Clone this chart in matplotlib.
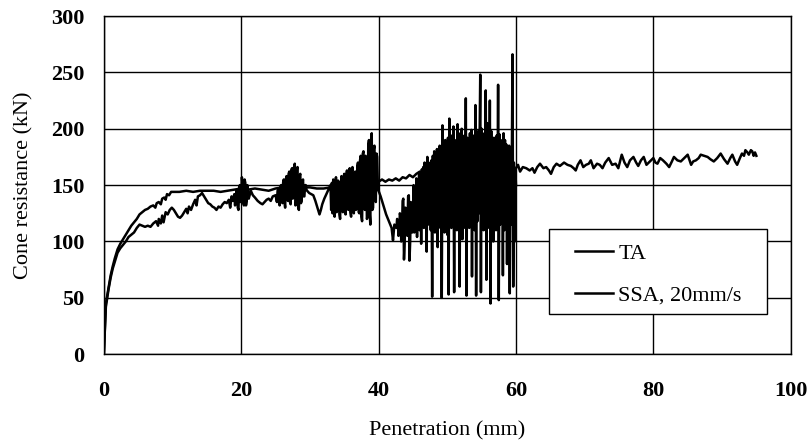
import matplotlib
matplotlib.use('Agg')
from matplotlib import pyplot as plt
from matplotlib.patches import Rectangle

plt.rcParams['font.family'] = ['Liberation Serif', 'DejaVu Serif']

# TA: (penetration mm, cone resistance kN)
ta_pts = [
    (0.0, 0), (0.1, 15), (0.2, 30), (0.3, 45), (0.5, 52), (0.8, 62), (1.0, 70), (1.3, 78),
    (1.6, 85), (2.0, 93), (2.4, 98), (2.8, 102), (3.2, 106), (3.6, 110), (4.0, 114),
    (4.4, 117), (4.8, 120), (5.2, 124), (5.6, 126), (6.0, 128), (6.4, 129), (6.8, 131),
    (7.2, 132), (7.5, 130), (7.7, 134), (8.0, 135), (8.3, 133), (8.5, 138), (8.8, 139),
    (9.0, 137), (9.2, 142), (9.5, 141), (9.8, 144),
    (10, 144), (11, 144), (12, 145), (13, 144), (14, 145), (15, 145), (16, 145), (17, 144),
    (18, 145), (19, 146), (20, 147), (21, 146), (22, 147), (23, 146), (24, 145), (25, 147),
    (26, 148), (27, 147), (28, 148), (29, 148), (30, 148), (31, 147), (32, 147), (33, 148),
    (34, 149), (35, 150), (36, 150), (37, 151), (38, 152), (39, 152), (40, 153),
    (40.5, 155), (41, 153), (41.5, 155), (42, 154), (42.5, 156), (43, 154), (43.5, 157),
    (44, 156), (44.5, 159), (45, 157), (45.5, 160), (46, 162), (46.5, 159), (47, 161),
    (48, 160), (49, 162), (50, 161), (51, 163), (52, 162), (53, 163), (54, 162), (55, 164),
    (56, 163), (57, 165), (58, 164), (59, 166),
    (60.0, 165), (60.3, 168), (60.6, 162), (61.0, 166), (61.5, 165), (62.0, 163),
    (62.4, 165), (62.7, 161), (63.1, 166), (63.5, 169), (64.0, 165), (64.4, 166),
    (64.8, 163), (65.1, 160), (65.5, 166), (65.9, 169), (66.4, 167), (67.0, 170),
    (67.5, 168), (68.0, 167), (68.4, 165), (68.7, 163), (69.0, 168), (69.4, 172),
    (69.8, 166), (70.2, 168), (70.6, 169), (70.9, 172), (71.3, 165), (71.8, 169),
    (72.2, 168), (72.6, 165), (73.0, 170), (73.5, 174), (74.0, 168), (74.5, 169),
    (74.9, 165), (75.4, 177), (75.8, 170), (76.2, 166), (76.6, 172), (77.1, 175),
    (77.5, 170), (77.8, 167), (78.2, 172), (78.6, 175), (79.0, 168), (79.5, 171),
    (80.0, 174), (80.3, 170), (80.6, 169), (81.0, 174), (81.4, 172), (81.9, 169),
    (82.3, 166), (82.7, 171), (83.0, 175), (83.5, 172), (84.0, 171), (84.5, 174),
    (85.0, 177), (85.5, 168), (85.8, 171), (86.2, 172), (86.6, 174), (86.9, 177),
    (87.4, 176), (87.9, 175), (88.3, 173), (88.8, 171), (89.3, 174), (89.8, 178),
    (90.3, 173), (90.8, 169), (91.2, 174), (91.5, 177), (91.9, 171), (92.2, 168),
    (92.6, 174), (92.9, 178), (93.2, 176), (93.4, 181), (93.7, 179), (93.9, 177),
    (94.2, 181), (94.4, 180), (94.6, 176), (94.8, 179), (95.0, 176),
]

# SSA, 20mm/s
ssa_pts = [
    (0.0, 0), (0.15, 20), (0.3, 42), (0.5, 50), (0.7, 58), (1.0, 68), (1.3, 76), (1.6, 82),
    (2.0, 90), (2.4, 94), (2.8, 97), (3.2, 100), (3.6, 104), (4.0, 106), (4.4, 108),
    (4.8, 112), (5.2, 115), (5.6, 114), (6.0, 113), (6.4, 114), (6.8, 113), (7.2, 116),
    (7.6, 118), (7.9, 114), (8.0, 120), (8.3, 116), (8.5, 123), (8.7, 117), (9.0, 126),
    (9.3, 124), (9.6, 128), (9.9, 130), (10.2, 128), (10.5, 125), (10.8, 122), (11.1, 121),
    (11.4, 123), (11.7, 126), (12.0, 129), (12.2, 125), (12.4, 131), (12.7, 128),
    (13.0, 133), (13.3, 137), (13.5, 132), (13.7, 140), (14.0, 141), (14.3, 143),
    (14.6, 140), (14.9, 137), (15.2, 134), (15.5, 133), (15.8, 131), (16.1, 130),
    (16.4, 128), (16.7, 131), (17.0, 130), (17.3, 133), (17.6, 135), (17.9, 134),
    (18.2, 137), (18.4, 130), (18.6, 140), (18.8, 136), (19.0, 142), (19.1, 132),
    (19.2, 135), (19.3, 145), (19.4, 146), (19.5, 130), (19.6, 128), (19.7, 148),
    (19.8, 150), (19.9, 135), (20.0, 140), (20.1, 157), (20.2, 150), (20.3, 135),
    (20.4, 132), (20.5, 155), (20.6, 152), (20.7, 132), (20.8, 136), (20.9, 150),
    (21.0, 145), (21.1, 138), (21.4, 145), (21.7, 141), (22.0, 139), (22.4, 136),
    (22.8, 134), (23.1, 133), (23.4, 135), (23.7, 137), (24.0, 138), (24.3, 136),
    (24.6, 140), (25.0, 141),
    (25.2, 135), (25.3, 145), (25.4, 147), (25.5, 136), (25.6, 132), (25.7, 148),
    (25.8, 150), (25.9, 138), (26.0, 134), (26.1, 152), (26.2, 155), (26.3, 135),
    (26.4, 130), (26.5, 155), (26.6, 158), (26.7, 138), (26.8, 136), (26.9, 160),
    (27.0, 162), (27.1, 135), (27.2, 133), (27.3, 163), (27.4, 165), (27.5, 138),
    (27.6, 140), (27.7, 166), (27.8, 169), (27.9, 132), (28.0, 135), (28.1, 164),
    (28.2, 166), (28.3, 130), (28.4, 128), (28.5, 158), (28.6, 160), (28.7, 134),
    (28.8, 136), (28.9, 152), (29.0, 155), (29.1, 140), (29.2, 140), (29.3, 150),
    (29.4, 150), (29.5, 146), (29.6, 145), (29.9, 143), (30.2, 142), (30.5, 141),
    (30.8, 136), (31.1, 130), (31.4, 124), (31.6, 128), (31.8, 133), (32.1, 138),
    (32.4, 142), (32.7, 146),
    (33.0, 150), (33.1, 128), (33.2, 152), (33.3, 125), (33.4, 155), (33.5, 130),
    (33.6, 122), (33.7, 150), (33.8, 157), (33.9, 126), (34.0, 128), (34.1, 154),
    (34.2, 152), (34.3, 124), (34.4, 120), (34.5, 150), (34.6, 158), (34.7, 130),
    (34.8, 126), (34.9, 156), (35.0, 160), (35.1, 128), (35.2, 124), (35.3, 158),
    (35.4, 163), (35.5, 132), (35.6, 128), (35.7, 160), (35.8, 165), (35.9, 126),
    (36.0, 122), (36.1, 162), (36.2, 166), (36.3, 130), (36.4, 125), (36.5, 160),
    (36.6, 162), (36.7, 128), (36.8, 130), (36.9, 166), (37.0, 170), (37.1, 126),
    (37.2, 125), (37.3, 172), (37.4, 176), (37.5, 122), (37.6, 118), (37.7, 178),
    (37.8, 180), (37.9, 130), (38.0, 128), (38.1, 176), (38.2, 172), (38.3, 120),
    (38.4, 122), (38.5, 185), (38.6, 190), (38.7, 125), (38.8, 115), (38.9, 188),
    (39.0, 196), (39.1, 128), (39.2, 130), (39.3, 182), (39.4, 185), (39.5, 140),
    (39.6, 135), (39.7, 178), (39.8, 175), (39.9, 148), (40.0, 145),
    (40.3, 140), (40.7, 132), (41.1, 124), (41.5, 118), (41.9, 112), (42.1, 101),
    (42.3, 115), (42.6, 112), (42.7, 120), (42.8, 118), (42.9, 105), (43.0, 108),
    (43.1, 125), (43.2, 122), (43.3, 100), (43.4, 104), (43.5, 136), (43.6, 138),
    (43.7, 84), (43.8, 100), (43.9, 130), (44.0, 125), (44.1, 106), (44.2, 105),
    (44.3, 140), (44.4, 141), (44.5, 83), (44.6, 100), (44.7, 135), (44.8, 130),
    (44.9, 108),
    (45.0, 112), (45.1, 150), (45.2, 108), (45.3, 145), (45.4, 120), (45.5, 156),
    (45.6, 104), (45.7, 152), (45.8, 118), (45.9, 160), (46.0, 110), (46.1, 158),
    (46.2, 98), (46.3, 164), (46.4, 120), (46.5, 166), (46.6, 112), (46.7, 170),
    (46.8, 122), (46.9, 168), (47.0, 91), (47.1, 175), (47.2, 115), (47.3, 170),
    (47.4, 120), (47.5, 165), (47.6, 110), (47.7, 172), (47.8, 51), (47.9, 176),
    (48.0, 118), (48.1, 180), (48.2, 108), (48.3, 174), (48.4, 122), (48.5, 182),
    (48.6, 95), (48.7, 178), (48.8, 118), (48.9, 185), (49.0, 112), (49.1, 180),
    (49.2, 50), (49.3, 203), (49.4, 120), (49.5, 186), (49.6, 108), (49.7, 190),
    (49.8, 118), (49.9, 184), (50.0, 106), (50.1, 192), (50.2, 53), (50.3, 209),
    (50.4, 122), (50.5, 188), (50.6, 112), (50.7, 194), (50.8, 120), (50.9, 202),
    (51.0, 55), (51.1, 190), (51.2, 125), (51.3, 186), (51.4, 110), (51.5, 204),
    (51.6, 118), (51.7, 188), (51.8, 60), (51.9, 196), (52.0, 120), (52.1, 200),
    (52.2, 102), (52.3, 190), (52.4, 118), (52.5, 194), (52.6, 112), (52.7, 227),
    (52.8, 52), (52.9, 192), (53.0, 125), (53.1, 188), (53.2, 112), (53.3, 196),
    (53.4, 120), (53.5, 199), (53.6, 69), (53.7, 190), (53.8, 120), (53.9, 194),
    (54.0, 110), (54.1, 221), (54.2, 52), (54.3, 195), (54.4, 118), (54.5, 198),
    (54.6, 125), (54.7, 190), (54.8, 248), (54.9, 55), (55.0, 200), (55.1, 122),
    (55.2, 192), (55.3, 110), (55.4, 196), (55.5, 118), (55.6, 234), (55.7, 66),
    (55.8, 205), (55.9, 118), (56.0, 195), (56.1, 112), (56.2, 225), (56.3, 45),
    (56.4, 198), (56.5, 115), (56.6, 190), (56.7, 100), (56.8, 192), (56.9, 120),
    (57.0, 186), (57.1, 110), (57.2, 194), (57.3, 118), (57.4, 239), (57.5, 48),
    (57.6, 195), (57.7, 115), (57.8, 188), (57.9, 120), (58.0, 190), (58.1, 70),
    (58.2, 196), (58.3, 110), (58.4, 190), (58.5, 118), (58.6, 186), (58.7, 80),
    (58.8, 182), (58.9, 112), (59.0, 185), (59.1, 54), (59.2, 180), (59.3, 115),
    (59.4, 175), (59.5, 266), (59.6, 60), (59.7, 170), (59.8, 100), (59.9, 165),
    (60.0, 150),
]

ta_x = [p[0] for p in ta_pts]
ta_y = [p[1] for p in ta_pts]
ssa_x = [p[0] for p in ssa_pts]
ssa_y = [p[1] for p in ssa_pts]

fig = plt.figure(figsize=(8.11, 4.45), dpi=100)
ax = fig.add_axes([0.128, 0.204, 0.847, 0.760])

ax.plot(ta_x, ta_y, color='black', lw=1.8, label='TA')
ax.plot(ssa_x, ssa_y, color='black', lw=1.8, label='SSA, 20mm/s')

ax.set_xlim(0, 100)
ax.set_ylim(0, 300)
ax.set_xticks([0, 20, 40, 60, 80, 100])
ax.set_yticks([0, 50, 100, 150, 200, 250, 300])
ax.grid(True, color='black', lw=1)
ax.set_axisbelow(True)
for s in ax.spines.values():
    s.set_color('black')
    s.set_linewidth(1)
ax.tick_params(axis='x', length=0, pad=19, labelsize=16)
ax.tick_params(axis='y', length=0, pad=14, labelsize=16)
for lab in ax.get_xticklabels() + ax.get_yticklabels():
    lab.set_fontweight('bold')

ax.set_xlabel('Penetration (mm)', fontsize=16)
ax.xaxis.set_label_coords(0.5, -0.198)
ax.set_ylabel('Cone resistance (kN)', fontsize=16)
ax.yaxis.set_label_coords(-0.103, 0.5)

# legend box drawn as its own rectangle, entries placed inside it
box = Rectangle((0.648, 0.118), 0.318, 0.252, transform=ax.transAxes,
                facecolor='white', edgecolor='black', lw=1, zorder=4)
ax.add_patch(box)
leg = ax.legend(loc='center left', bbox_to_anchor=(0.686, 0.236), fontsize=16,
                frameon=False, handlelength=1.7, handletextpad=0.25,
                labelspacing=0.95, borderpad=0, borderaxespad=0)
leg.set_zorder(5)

plt.savefig('out.png', dpi=100)
